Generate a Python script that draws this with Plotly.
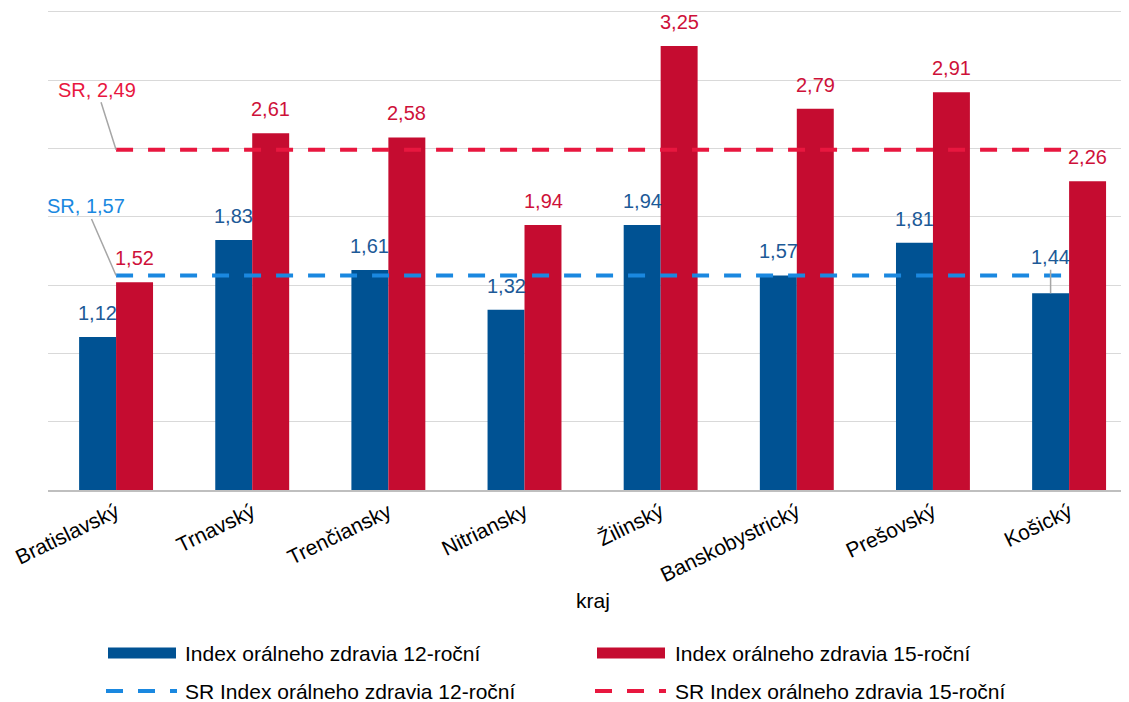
import plotly.graph_objects as go

categories = ["Bratislavský", "Trnavský", "Trenčiansky", "Nitriansky",
              "Žilinský", "Banskobystrický", "Prešovský", "Košický"]
index_12 = [1.12, 1.83, 1.61, 1.32, 1.94, 1.57, 1.81, 1.44]
index_15 = [1.52, 2.61, 2.58, 1.94, 3.25, 2.79, 2.91, 2.26]
sr_12 = 1.57
sr_15 = 2.49
series_names = ["Index orálneho zdravia 12-roční", "Index orálneho zdravia 15-roční",
                "SR Index orálneho zdravia 12-roční", "SR Index orálneho zdravia 15-roční"]

BLUE_BAR = "#005293"
RED_BAR = "#C50C30"
BLUE_TXT = "#1D5A97"
RED_TXT = "#CE1139"
BLUE_DASH = "#1A88E0"
RED_DASH = "#E8173F"
GRAY = "#A6A6A6"
FONT = "Liberation Sans, Arial, sans-serif"

PAGE = 8  # default page body margin
W, H = 1129 - PAGE, 702 - PAGE
ML, MR, MT, MB = 48 - PAGE, 0, 1, 212
PW = W - ML - MR
PH = H - MT - MB


def fmt(v):
    return f"{v:.2f}".replace(".", ",")


def px_x(px):
    # px given in window coordinates
    return (px - PAGE - ML) / PW


def px_y(py):
    return (H - MB - (py - PAGE)) / PH


fig = go.Figure()
fig.add_trace(go.Bar(x=categories, y=index_12, name=series_names[0],
                     marker=dict(color=BLUE_BAR, line=dict(width=0)), showlegend=False))
fig.add_trace(go.Bar(x=categories, y=index_15, name=series_names[1],
                     marker=dict(color=RED_BAR, line=dict(width=0)), showlegend=False))
fig.add_trace(go.Scatter(x=categories, y=[sr_12] * len(categories), mode="lines",
                         name=series_names[2], showlegend=False,
                         line=dict(color=BLUE_DASH, width=4, dash="17px,15px")))
fig.add_trace(go.Scatter(x=categories, y=[sr_15] * len(categories), mode="lines",
                         name=series_names[3], showlegend=False,
                         line=dict(color=RED_DASH, width=4, dash="17px,15px")))

annotations = []
off = 18.5
for i, c in enumerate(categories):
    v = index_12[i]
    if c == "Košický":
        annotations.append(dict(x=c, y=v, xref="x", yref="y", xshift=-off, text=fmt(v),
                                showarrow=True, arrowhead=0, arrowcolor=GRAY, arrowwidth=1.5,
                                ax=0, ay=-36, standoff=0,
                                font=dict(family=FONT, size=20, color=BLUE_TXT)))
    else:
        annotations.append(dict(x=c, y=v, xref="x", yref="y", xshift=-off, yshift=24,
                                yanchor="middle", text=fmt(v), showarrow=False,
                                font=dict(family=FONT, size=20, color=BLUE_TXT)))
    v = index_15[i]
    annotations.append(dict(x=c, y=v, xref="x", yref="y", xshift=off, yshift=24,
                            yanchor="middle", text=fmt(v), showarrow=False,
                            font=dict(family=FONT, size=20, color=RED_TXT)))

annotations.append(dict(x=categories[0], y=sr_15, xref="x", yref="y", text="SR, " + fmt(sr_15),
                        showarrow=True, arrowhead=0, arrowcolor=GRAY, arrowwidth=1.5,
                        ax=-19, ay=-60, standoff=0,
                        font=dict(family=FONT, size=20, color=RED_DASH)))
annotations.append(dict(x=categories[0], y=sr_12, xref="x", yref="y", text="SR, " + fmt(sr_12),
                        showarrow=True, arrowhead=0, arrowcolor=GRAY, arrowwidth=1.5,
                        ax=-30, ay=-69, standoff=0,
                        font=dict(family=FONT, size=20, color=BLUE_DASH)))

# axis title
annotations.append(dict(x=px_x(593), y=px_y(600), xref="paper", yref="paper", text="kraj",
                        showarrow=False, xanchor="center", yanchor="middle",
                        font=dict(family=FONT, size=21, color="#000000")))

# manual legend
shapes = []
leg = [
    (series_names[0], 108, 176, 183, 653, "bar", BLUE_BAR),
    (series_names[1], 597, 665, 673, 653, "bar", RED_BAR),
    (series_names[2], 106, 177, 183, 691, "dash", BLUE_DASH),
    (series_names[3], 595, 666, 673, 691, "dash", RED_DASH),
]
for name, x0, x1, tx, ty, kind, col in leg:
    if kind == "bar":
        shapes.append(dict(type="rect", xref="paper", yref="paper",
                           x0=px_x(x0), x1=px_x(x1), y0=px_y(ty + 5.5), y1=px_y(ty - 5.5),
                           fillcolor=col, line=dict(width=0)))
    else:
        shapes.append(dict(type="line", xref="paper", yref="paper",
                           x0=px_x(x0), x1=px_x(x1), y0=px_y(ty), y1=px_y(ty),
                           line=dict(color=col, width=4, dash="17px,15px")))
    annotations.append(dict(x=px_x(tx), y=px_y(ty), xref="paper", yref="paper", text=name,
                            showarrow=False, xanchor="left", yanchor="middle",
                            font=dict(family=FONT, size=21, color="#000000")))

fig.update_layout(
    width=W, height=H,
    margin=dict(l=ML, r=MR, t=MT, b=MB, pad=0),
    paper_bgcolor="white", plot_bgcolor="white",
    barmode="group", bargap=0.457, bargroupgap=0,
    showlegend=False,
    font=dict(family=FONT, size=21, color="#000000"),
    xaxis=dict(type="category", range=[-0.5, 7.44], showline=True, linecolor="#BFBFBF",
               linewidth=1.5, ticks="", tickangle=-26, showgrid=False,
               tickfont=dict(family=FONT, size=21, color="#000000")),
    yaxis=dict(range=[0, 3.52], dtick=0.5, showticklabels=False, showgrid=True,
               gridcolor="#D9D9D9", gridwidth=1, zeroline=False, showline=False, ticks=""),
    annotations=annotations,
    shapes=shapes,
)

fig.write_html("out.html")
